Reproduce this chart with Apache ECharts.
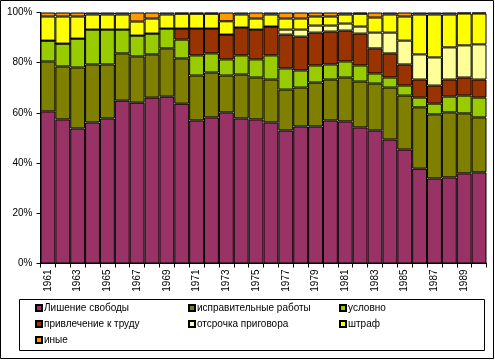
<!DOCTYPE html>
<html>
<head>
<meta charset="utf-8">
<script src="https://cdn.jsdelivr.net/npm/echarts@6/dist/echarts.min.js"></script>
<style>
html,body{margin:0;padding:0;background:#fff;}
#chart{width:495px;height:360px;}
</style>
</head>
<body>
<div id="chart"></div>
<script>
const years = ['1961','1962','1963','1964','1965','1966','1967','1968','1969','1970',
  '1971','1972','1973','1974','1975','1976','1977','1978','1979','1980',
  '1981','1982','1983','1984','1985','1986','1987','1988','1989','1990'];
const seriesNames = ['Лишение свободы','исправительные работы','условно','привлечение к труду','отсрочка приговора','штраф','иные'];
const lishenie = [60.6,57.4,53.8,56.2,57.8,64.9,64.1,66.1,66.5,63.7, 57.0,58.2,60.2,57.8,57.4,56.2,53.0,54.6,54.6,57.0, 56.6,54.2,53.0,49.4,45.4,37.8,33.9,34.3,35.9,36.3];
const ispravit = [19.9,21.1,24.3,23.1,21.5,18.8,18.4,17.2,19.2,18.0, 17.9,17.9,14.7,17.5,16.7,17.1,16.3,15.5,17.5,16.3, 17.5,18.3,18.7,20.7,21.5,24.4,25.5,25.9,23.9,21.9];
const uslovno = [8.3,9.1,11.5,13.9,13.9,9.5,8.3,8.3,7.9,7.5, 8.0,7.6,6.4,7.6,7.2,9.6,8.4,6.8,6.8,6.0, 6.4,6.4,4.0,4.0,4.0,3.9,4.3,6.3,7.1,7.9];
const privlechenie = [0,0,0,0,0,0,0,0,0,4.4, 10.7,9.9,9.9,11.1,11.9,11.5,13.5,13.5,13.1,13.1, 12.3,12.7,10.0,9.6,8.4,7.2,7.2,6.8,7.2,7.2];
const otsrochka = [0,0,0,0,0,0,0,0,0,0, 0,0,0,0,0,0,2.0,2.8,2.8,2.4, 2.8,2.8,6.3,8.3,9.5,10.0,11.2,12.8,12.8,14.0];
const shtraf = [9.6,10.8,8.8,6.0,6.0,6.0,5.6,6.0,5.6,5.9, 5.9,5.9,5.3,5.2,4.4,4.8,4.4,4.4,3.6,3.6, 3.6,5.1,6.0,7.2,9.6,15.9,17.1,13.1,12.7,12.3];
const inye = [1.6,1.6,1.6,0.8,0.8,0.8,3.6,2.4,0.8,0.5, 0.5,0.5,3.5,0.8,2.4,0.8,2.4,2.4,1.6,1.6, 0.8,0.5,2.0,0.8,1.6,0.8,0.8,0.8,0.4,0.4];
const yTicks = [0,20,40,60,80,100];

const raw = [lishenie, ispravit, uslovno, privlechenie, otsrochka, shtraf, inye];
const colors = ['#993366','#808000','#99CC00','#993300','#FFFF99','#FFFF00','#FF9900'];
const totals = years.map((_, i) => raw.reduce((s, a) => s + a[i], 0));
const norm = raw.map(a => a.map((v, i) => +(v / totals[i] * 100).toFixed(3)));

const font = 'Arial, "Liberation Sans", sans-serif';
const legendPos = [[35,303],[188,303],[339,303],[35,319],[188,319],[339,319],[35,335]];

const chart = echarts.init(document.getElementById('chart'), null, {renderer:'canvas'});
chart.setOption({
  animation: false,
  backgroundColor: '#fff',
  grid: {left: 40.5, right: 8.5, top: 12.5, bottom: 96.5, containLabel: false},
  xAxis: {
    type: 'category',
    data: years,
    boundaryGap: true,
    axisLine: {lineStyle: {color: '#000', width: 1}},
    axisTick: {show: true, interval: 0, length: 4, lineStyle: {color: '#000'}},
    axisLabel: {interval: 1, rotate: 90, color: '#000', fontSize: 10, fontFamily: font, margin: 6},
    splitLine: {show: false}
  },
  yAxis: {
    type: 'value',
    min: yTicks[0], max: yTicks[yTicks.length - 1], interval: 20,
    axisLine: {show: true, lineStyle: {color: '#000', width: 1}},
    axisTick: {show: true, length: 4, lineStyle: {color: '#000'}},
    axisLabel: {formatter: '{value}%', color: '#000', fontSize: 10, fontFamily: font, margin: 8},
    splitLine: {show: false}
  },
  legend: seriesNames.map((n, i) => ({
    data: [n], left: legendPos[i][0], top: legendPos[i][1], padding: 0,
    icon: 'rect', itemWidth: 6, itemHeight: 6,
    textStyle: {color: '#000', fontSize: 10, fontFamily: font, padding: [0,0,0,-3]},
    selectedMode: false
  })),
  series: seriesNames.map((n, i) => ({
    name: n, type: 'bar', stack: 'total',
    data: norm[i],
    barCategoryGap: '0%',
    itemStyle: {color: colors[i], borderColor: '#000', borderWidth: 1},
    emphasis: {disabled: true}
  })),
  graphic: [
    {type: 'rect', shape: {x: 0.5, y: 0.5, width: 493, height: 358}, style: {fill: 'none', stroke: '#000', lineWidth: 1}, silent: true},
    {type: 'rect', shape: {x: 19.5, y: 299.5, width: 465, height: 51}, style: {fill: 'none', stroke: '#000', lineWidth: 1}, silent: true}
  ]
});
</script>
</body>
</html>
